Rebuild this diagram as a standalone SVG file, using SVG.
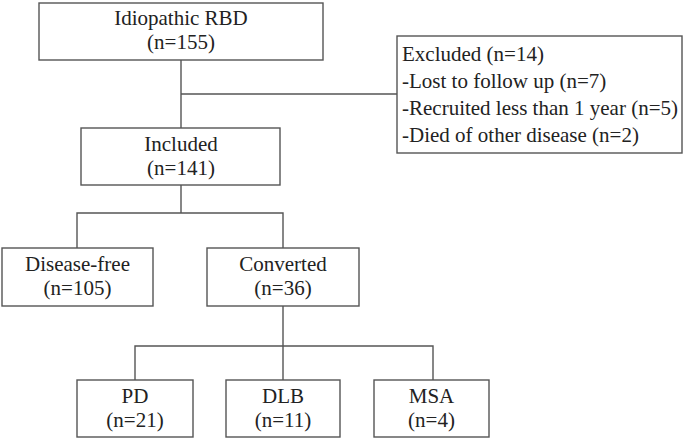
<svg xmlns="http://www.w3.org/2000/svg" width="685" height="440" viewBox="0 0 685 440">
<style>
.box{fill:#fff;stroke:#555;stroke-width:1.4}
.t{font-family:"Liberation Serif","Times New Roman",serif;font-size:21px;fill:#222;text-anchor:middle}
.tl{font-family:"Liberation Serif","Times New Roman",serif;font-size:21px;fill:#222}
.ln{fill:none;stroke:#555;stroke-width:1.4}
</style>
<rect width="685" height="440" fill="#fff"/>
<g id="connectors">
<path class="ln" d="M181,60 V128 M181,94 H397"/>
<path class="ln" d="M181,185 V213 M77,248 V213 H283 V248"/>
<path class="ln" d="M283,306 V346 M135,380 V346 H433 V380 M283,346 V380"/>
</g>
<g id="idiopathic">
<rect class="box" x="39" y="3" width="284" height="57"/>
<text class="t" x="181" y="25">Idiopathic RBD</text>
<text class="t" x="181" y="49">(n=155)</text>
</g>
<g id="excluded">
<rect class="box" x="397" y="36" width="285" height="117"/>
<text class="tl" x="402" y="61">Excluded (n=14)</text>
<text class="tl" x="402" y="88">-Lost to follow up (n=7)</text>
<text class="tl" x="402" y="115">-Recruited less than 1 year (n=5)</text>
<text class="tl" x="402" y="142">-Died of other disease (n=2)</text>
</g>
<g id="included">
<rect class="box" x="81" y="128" width="199" height="57"/>
<text class="t" x="181" y="151">Included</text>
<text class="t" x="181" y="175">(n=141)</text>
</g>
<g id="diseasefree">
<rect class="box" x="2" y="248" width="151" height="58"/>
<text class="t" x="77.5" y="271">Disease-free</text>
<text class="t" x="77.5" y="295">(n=105)</text>
</g>
<g id="converted">
<rect class="box" x="207" y="248" width="152" height="58"/>
<text class="t" x="283" y="271">Converted</text>
<text class="t" x="283" y="295">(n=36)</text>
</g>
<g id="pd">
<rect class="box" x="77" y="380" width="116" height="57"/>
<text class="t" x="135" y="403">PD</text>
<text class="t" x="135" y="427">(n=21)</text>
</g>
<g id="dlb">
<rect class="box" x="226" y="380" width="114" height="57"/>
<text class="t" x="283" y="403">DLB</text>
<text class="t" x="283" y="427">(n=11)</text>
</g>
<g id="msa">
<rect class="box" x="374" y="380" width="115" height="57"/>
<text class="t" x="431.5" y="403">MSA</text>
<text class="t" x="431.5" y="427">(n=4)</text>
</g>
</svg>
